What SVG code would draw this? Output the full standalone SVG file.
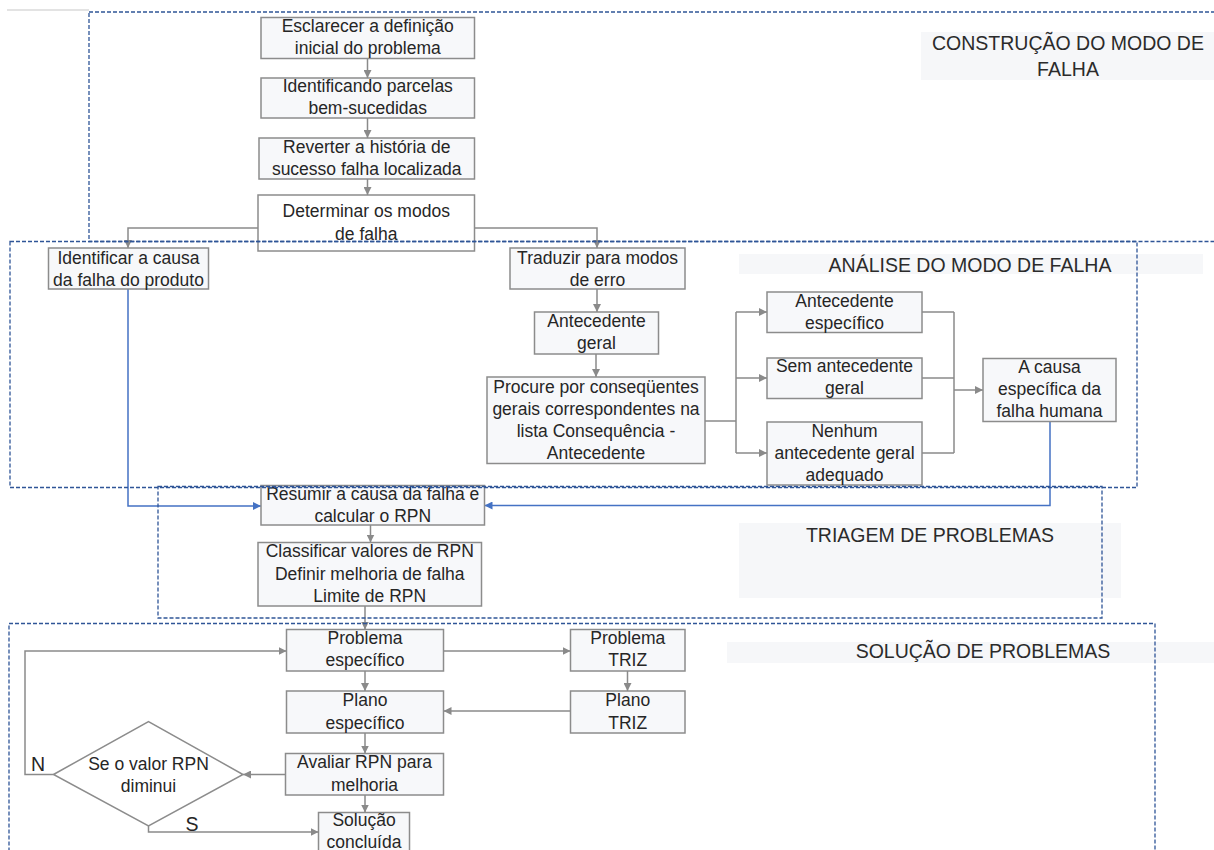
<svg xmlns="http://www.w3.org/2000/svg" width="1214" height="850" viewBox="0 0 1214 850">
  <defs>
    <marker id="arrGray" markerWidth="9" markerHeight="8" refX="8" refY="4" orient="auto" markerUnits="userSpaceOnUse">
      <path d="M0,0 L8,4 L0,8 z" fill="#8a8a8a"/>
    </marker>
    <marker id="arrBlue" markerWidth="9" markerHeight="8" refX="8" refY="4" orient="auto" markerUnits="userSpaceOnUse">
      <path d="M0,0 L8,4 L0,8 z" fill="#4472c4"/>
    </marker>
    <style>
      .box { fill: #f7f8fa; stroke: #8c8c8c; stroke-width: 1.5; }
      .boxw { fill: #ffffff; stroke: #8c8c8c; stroke-width: 1.5; }
      .t { font-family: "Liberation Sans", Arial, sans-serif; font-size: 17.5px; fill: #262626; text-anchor: middle; }
      .lbl { font-family: "Liberation Sans", Arial, sans-serif; font-size: 19.5px; fill: #2b2b2b; text-anchor: middle; }
      .yn { font-family: "Liberation Sans", Arial, sans-serif; font-size: 19.5px; fill: #262626; text-anchor: middle; }
      .lblbg { fill: #f6f7f9; }
      .zone { fill: none; stroke: #2f5597; stroke-width: 1.3; stroke-dasharray: 4 2; }
      .c { fill: none; stroke: #8a8a8a; stroke-width: 1.5; }
      .ca { fill: none; stroke: #8a8a8a; stroke-width: 1.5; marker-end: url(#arrGray); }
      .cb { fill: none; stroke: #4472c4; stroke-width: 1.5; marker-end: url(#arrBlue); }
    </style>
  </defs>

  <rect width="1214" height="850" fill="#ffffff"/>
  <line x1="7" y1="10" x2="89" y2="10" stroke="#c8c8c8" stroke-width="1.2"/>

  <!-- zone captions -->
  <g id="captions">
    <rect class="lblbg" x="921" y="32" width="293" height="48"/>
    <text class="lbl" x="1068" y="50">CONSTRUÇÃO DO MODO DE</text>
    <text class="lbl" x="1068" y="76">FALHA</text>
    <rect class="lblbg" x="739" y="254" width="464" height="20"/>
    <text class="lbl" x="970" y="272">ANÁLISE DO MODO DE FALHA</text>
    <rect class="lblbg" x="739" y="523" width="382" height="75"/>
    <text class="lbl" x="930" y="542">TRIAGEM DE PROBLEMAS</text>
    <rect class="lblbg" x="727" y="642" width="487" height="21"/>
    <text class="lbl" x="983" y="658">SOLUÇÃO DE PROBLEMAS</text>
  </g>

  <!-- connectors -->
  <g id="connectors">
    <path class="ca" d="M367.5,58.5 V78"/>
    <path class="ca" d="M367.5,118 V138"/>
    <path class="ca" d="M367.5,179 V195"/>
    <path class="ca" d="M258,228 H128 V248"/>
    <path class="ca" d="M474.5,228 H597 V248"/>
    <path class="ca" d="M597,289 V312"/>
    <path class="ca" d="M596,354 V377"/>
    <path class="c" d="M705,421 H736"/>
    <path class="ca" d="M736,312 H767"/>
    <path class="ca" d="M736,378 H767"/>
    <path class="ca" d="M736,453 H767"/>
    <path class="c" d="M736,312 V453"/>
    <path class="c" d="M922,312 H954"/>
    <path class="c" d="M922,378 H954"/>
    <path class="c" d="M922,453 H954"/>
    <path class="c" d="M954,312 V453"/>
    <path class="ca" d="M954,390 H983"/>
    <path class="cb" d="M128,289 V506 H261"/>
    <path class="cb" d="M1050,421.5 V505.5 H484.5"/>
    <path class="ca" d="M370.5,525 V542.5"/>
    <path class="ca" d="M365,606 V629.5"/>
    <path class="ca" d="M443.5,651 H570.5"/>
    <path class="ca" d="M627.5,671 V691"/>
    <path class="ca" d="M570.5,711 H443.5"/>
    <path class="ca" d="M365,671 V691"/>
    <path class="ca" d="M365,733 V753.5"/>
    <path class="ca" d="M285.5,774.5 H243"/>
    <path class="ca" d="M53.5,774.5 H25 V651 H286.5"/>
    <path class="ca" d="M148.5,826 V832 H318.5"/>
    <path class="ca" d="M365,795 V812.5"/>
  </g>

  <!-- nodes -->
  <g id="n-esclarecer">
    <rect class="box" x="261" y="17.5" width="213.5" height="41"/>
    <text class="t" x="367.75" y="32">Esclarecer a definição</text>
    <text class="t" x="367.75" y="54">inicial do problema</text>
  </g>
  <g id="n-identificando">
    <rect class="box" x="261" y="78" width="213.5" height="40"/>
    <text class="t" x="367.75" y="92">Identificando parcelas</text>
    <text class="t" x="367.75" y="114">bem-sucedidas</text>
  </g>
  <g id="n-reverter">
    <rect class="box" x="259" y="138" width="215.5" height="41"/>
    <text class="t" x="366.75" y="153">Reverter a história de</text>
    <text class="t" x="366.75" y="175">sucesso falha localizada</text>
  </g>
  <g id="n-determinar">
    <rect class="boxw" x="258" y="195" width="216.5" height="56"/>
    <text class="t" x="366.25" y="217">Determinar os modos</text>
    <text class="t" x="366.25" y="240">de falha</text>
  </g>
  <g id="n-causa-produto">
    <rect class="box" x="48.5" y="248" width="160" height="41"/>
    <text class="t" x="128.5" y="264">Identificar a causa</text>
    <text class="t" x="128.5" y="286">da falha do produto</text>
  </g>
  <g id="n-traduzir">
    <rect class="box" x="510" y="248" width="175" height="41"/>
    <text class="t" x="597.5" y="264">Traduzir para modos</text>
    <text class="t" x="597.5" y="286">de erro</text>
  </g>
  <g id="n-antecedente-geral">
    <rect class="box" x="534.5" y="312" width="124" height="42"/>
    <text class="t" x="596.5" y="327">Antecedente</text>
    <text class="t" x="596.5" y="349">geral</text>
  </g>
  <g id="n-procure">
    <rect class="box" x="487" y="377" width="218" height="86.5"/>
    <text class="t" x="596" y="393">Procure por conseqüentes</text>
    <text class="t" x="596" y="415">gerais correspondentes na</text>
    <text class="t" x="596" y="437">lista Consequência -</text>
    <text class="t" x="596" y="459">Antecedente</text>
  </g>
  <g id="n-antecedente-especifico">
    <rect class="box" x="767" y="292" width="155" height="40.5"/>
    <text class="t" x="844.5" y="307">Antecedente</text>
    <text class="t" x="844.5" y="329">específico</text>
  </g>
  <g id="n-sem-antecedente">
    <rect class="box" x="767" y="358" width="155" height="40.5"/>
    <text class="t" x="844.5" y="372">Sem antecedente</text>
    <text class="t" x="844.5" y="394">geral</text>
  </g>
  <g id="n-nenhum-antecedente">
    <rect class="box" x="767" y="422" width="155" height="63"/>
    <text class="t" x="844.5" y="437">Nenhum</text>
    <text class="t" x="844.5" y="459">antecedente geral</text>
    <text class="t" x="844.5" y="481">adequado</text>
  </g>
  <g id="n-causa-humana">
    <rect class="box" x="983" y="358.5" width="133" height="63"/>
    <text class="t" x="1049.5" y="373">A causa</text>
    <text class="t" x="1049.5" y="395">específica da</text>
    <text class="t" x="1049.5" y="417">falha humana</text>
  </g>
  <g id="n-resumir">
    <rect class="box" x="261" y="485.5" width="223.5" height="39.5"/>
    <text class="t" x="372.75" y="500">Resumir a causa da falha e</text>
    <text class="t" x="372.75" y="522">calcular o RPN</text>
  </g>
  <g id="n-classificar">
    <rect class="box" x="258" y="542.5" width="223.5" height="63.5"/>
    <text class="t" x="369.75" y="557">Classificar valores de RPN</text>
    <text class="t" x="369.75" y="580">Definir melhoria de falha</text>
    <text class="t" x="369.75" y="602">Limite de RPN</text>
  </g>
  <g id="n-problema-especifico">
    <rect class="box" x="286.5" y="629.5" width="157" height="41.5"/>
    <text class="t" x="365" y="644">Problema</text>
    <text class="t" x="365" y="666">específico</text>
  </g>
  <g id="n-problema-triz">
    <rect class="box" x="570.5" y="629.5" width="114.5" height="41.5"/>
    <text class="t" x="627.75" y="644">Problema</text>
    <text class="t" x="627.75" y="666">TRIZ</text>
  </g>
  <g id="n-plano-triz">
    <rect class="box" x="570.5" y="691" width="114.5" height="42"/>
    <text class="t" x="627.75" y="706">Plano</text>
    <text class="t" x="627.75" y="729">TRIZ</text>
  </g>
  <g id="n-plano-especifico">
    <rect class="box" x="286.5" y="691" width="157" height="42"/>
    <text class="t" x="365" y="706">Plano</text>
    <text class="t" x="365" y="729">específico</text>
  </g>
  <g id="n-avaliar">
    <rect class="box" x="285.5" y="753.5" width="158" height="41.5"/>
    <text class="t" x="364.5" y="768">Avaliar RPN para</text>
    <text class="t" x="364.5" y="791">melhoria</text>
  </g>
  <g id="n-decisao">
    <polygon class="boxw" points="53.5,774.5 148.5,721.5 243,774.5 148.5,826"/>
    <text class="t" x="148.5" y="770">Se o valor RPN</text>
    <text class="t" x="148.5" y="792">diminui</text>
    <text class="yn" x="38" y="771">N</text>
    <text class="yn" x="192" y="831">S</text>
  </g>
  <g id="n-solucao">
    <rect class="box" x="318.5" y="812.5" width="91" height="50"/>
    <text class="t" x="364" y="826">Solução</text>
    <text class="t" x="364" y="848">concluída</text>
  </g>

  <!-- dashed zone outlines -->
  <g id="zones">
    <rect class="zone" x="89" y="12" width="1135" height="229.5"/>
    <rect class="zone" x="10" y="241.5" width="1127" height="246"/>
    <rect class="zone" x="158" y="486.5" width="944" height="131.5"/>
    <rect class="zone" x="9" y="623.5" width="1146" height="240"/>
  </g>
</svg>
